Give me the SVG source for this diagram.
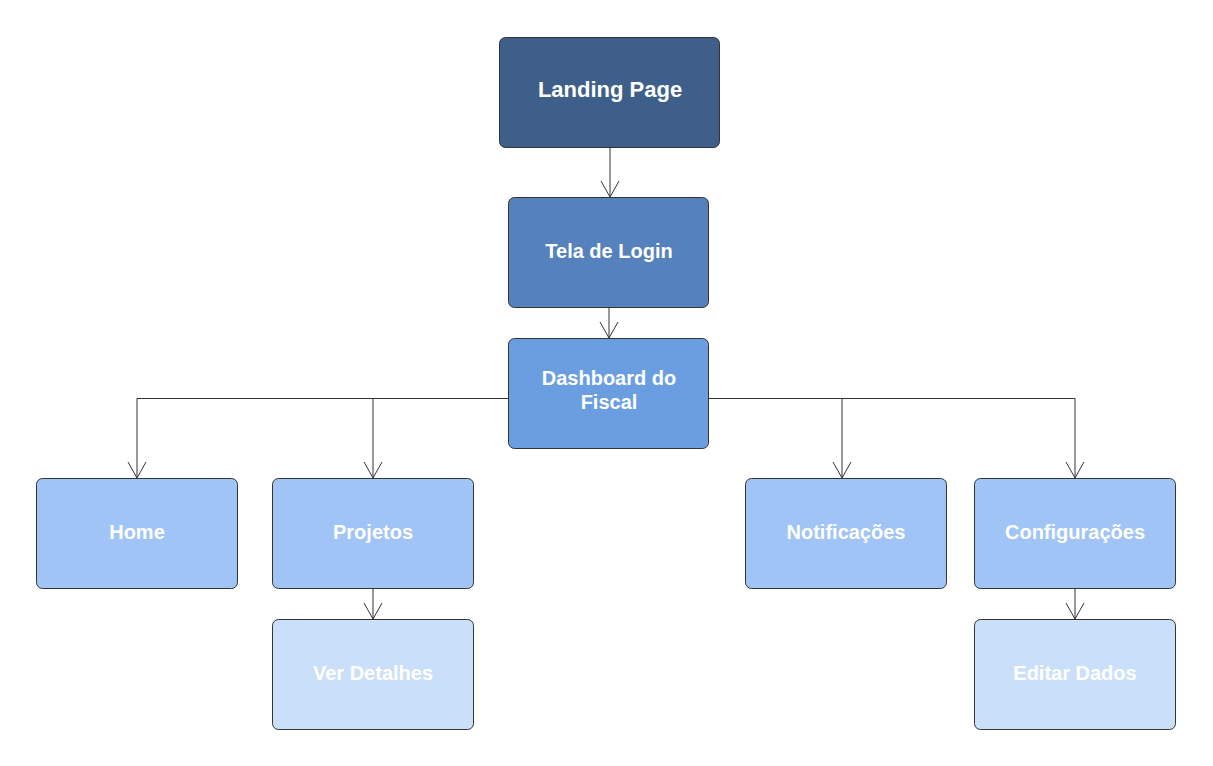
<svg xmlns="http://www.w3.org/2000/svg" width="1213" height="766" viewBox="0 0 1213 766">
<style>
.box{stroke:#333;stroke-width:1}
.l1{fill:#3e5f8a}.l2{fill:#5581bd}.l3{fill:#6a9ee0}.l4{fill:#a0c4f5}.l5{fill:#cadff9}
.t{font-family:"Liberation Sans",Arial,sans-serif;font-weight:bold;font-size:20px;fill:#fff;text-anchor:middle}
.c{fill:none;stroke:#333;stroke-width:1}
</style>
<defs>
<marker id="arr" viewBox="-18 -10 20 20" refX="0" refY="0" markerWidth="20" markerHeight="20" markerUnits="userSpaceOnUse" orient="auto" overflow="visible">
<path d="M-16,-9 L0,0 L-16,9" fill="none" stroke="#333" stroke-width="1"/>
</marker>
</defs>
<rect width="1213" height="766" fill="#fff"/>
<g id="connectors">
<path class="c" d="M610,148 V197" marker-end="url(#arr)"/>
<path class="c" d="M609,307 V338" marker-end="url(#arr)"/>
<path class="c" d="M508,398.5 H137 V478" marker-end="url(#arr)"/>
<path class="c" d="M373,398.5 V478" marker-end="url(#arr)"/>
<path class="c" d="M709,398.5 H1075 V478" marker-end="url(#arr)"/>
<path class="c" d="M842,398.5 V478" marker-end="url(#arr)"/>
<path class="c" d="M373,589 V619" marker-end="url(#arr)"/>
<path class="c" d="M1075,589 V619" marker-end="url(#arr)"/>
</g>
<g id="landing"><rect class="box l1" x="499.5" y="37.5" width="220" height="110" rx="6"/><text class="t" x="610" y="97" style="font-size:22px">Landing Page</text></g>
<g id="login"><rect class="box l2" x="508.5" y="197.5" width="200" height="110" rx="6"/><text class="t" x="609" y="258">Tela de Login</text></g>
<g id="dashboard"><rect class="box l3" x="508.5" y="338.5" width="200" height="110" rx="6"/><text class="t" x="609" y="385">Dashboard do</text><text class="t" x="609" y="409">Fiscal</text></g>
<g id="home"><rect class="box l4" x="36.5" y="478.5" width="201" height="110" rx="6"/><text class="t" x="137" y="539">Home</text></g>
<g id="projetos"><rect class="box l4" x="272.5" y="478.5" width="201" height="110" rx="6"/><text class="t" x="373" y="539">Projetos</text></g>
<g id="notificacoes"><rect class="box l4" x="745.5" y="478.5" width="201" height="110" rx="6"/><text class="t" x="846" y="539">Notificações</text></g>
<g id="configuracoes"><rect class="box l4" x="974.5" y="478.5" width="201" height="110" rx="6"/><text class="t" x="1075" y="539">Configurações</text></g>
<g id="verdetalhes"><rect class="box l5" x="272.5" y="619.5" width="201" height="110" rx="6"/><text class="t" x="373" y="680">Ver Detalhes</text></g>
<g id="editardados"><rect class="box l5" x="974.5" y="619.5" width="201" height="110" rx="6"/><text class="t" x="1075" y="680">Editar Dados</text></g>
</svg>
